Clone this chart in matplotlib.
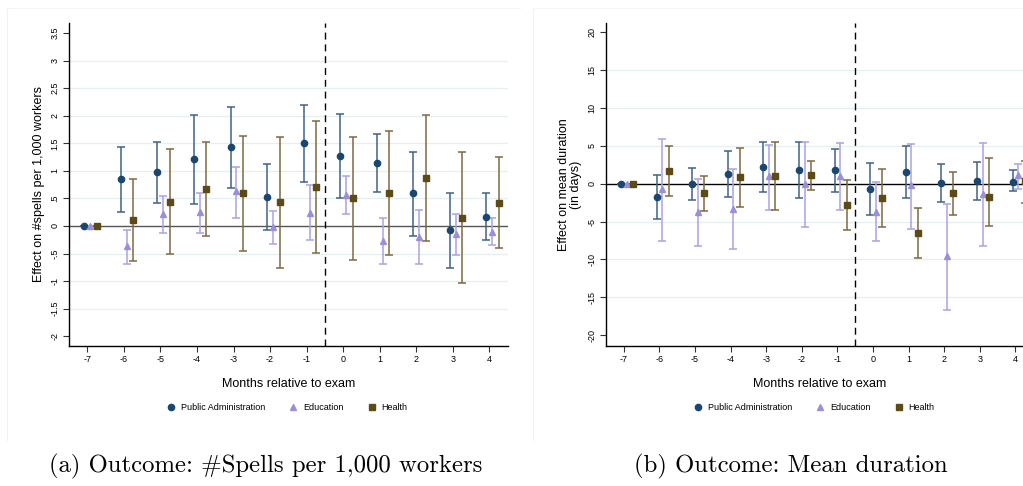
import matplotlib
matplotlib.use("Agg")
import matplotlib.pyplot as plt
from matplotlib.lines import Line2D
import numpy as np

plt.rcParams['font.family'] = ['Liberation Sans', 'DejaVu Sans']

months = [-7, -6, -5, -4, -3, -2, -1, 0, 1, 2, 3, 4]

# panel (a): #spells per 1,000 workers
pa_spells = [0, 0.85, 0.97, 1.21, 1.43, 0.52, 1.50, 1.27, 1.15, 0.59, -0.08, 0.16]
pa_spells_hi = [0, 1.44, 1.52, 2.02, 2.16, 1.12, 2.19, 2.03, 1.67, 1.35, 0.59, 0.59]
pa_spells_lo = [0, 0.26, 0.41, 0.40, 0.69, -0.08, 0.79, 0.50, 0.62, -0.19, -0.76, -0.26]

ed_spells = [0, -0.36, 0.22, 0.25, 0.63, -0.02, 0.24, 0.57, -0.27, -0.20, -0.15, -0.10]
ed_spells_hi = [0, -0.07, 0.54, 0.60, 1.07, 0.27, 0.74, 0.91, 0.15, 0.29, 0.21, 0.15]
ed_spells_lo = [0, -0.69, -0.12, -0.13, 0.14, -0.33, -0.26, 0.21, -0.69, -0.69, -0.53, -0.35]

he_spells = [0, 0.11, 0.43, 0.67, 0.59, 0.43, 0.70, 0.51, 0.60, 0.87, 0.14, 0.42]
he_spells_hi = [0, 0.85, 1.39, 1.53, 1.64, 1.62, 1.91, 1.62, 1.73, 2.01, 1.34, 1.25]
he_spells_lo = [0, -0.63, -0.51, -0.18, -0.46, -0.77, -0.49, -0.61, -0.52, -0.27, -1.03, -0.40]

# panel (b): mean duration (days)
pa_dur = [0, -1.81, 0.0, 1.28, 2.20, 1.81, 1.76, -0.70, 1.54, 0.13, 0.35, 0.25]
pa_dur_hi = [0, 1.15, 2.07, 4.27, 5.46, 5.46, 4.54, 2.69, 4.98, 2.64, 2.82, 1.76]
pa_dur_lo = [0, -4.71, -2.11, -1.72, -1.06, -1.85, -1.06, -4.14, -1.89, -2.38, -2.11, -1.00]

ed_dur = [0, -0.75, -3.74, -3.30, 0.97, -0.09, 1.06, -3.79, -0.22, -9.60, -1.37, 1.15]
ed_dur_hi = [0, 5.95, 0.57, 1.94, 5.11, 5.46, 5.33, 0.22, 5.29, -2.69, 5.42, 2.60]
ed_dur_lo = [0, -7.62, -8.19, -8.63, -3.44, -5.77, -3.44, -7.53, -5.99, -16.7, -8.28, -0.70]

he_dur = [0, 1.72, -1.28, 0.84, 0.97, 1.10, -2.86, -1.94, -6.56, -1.28, -1.72, 0.3]
he_dur_hi = [0, 4.98, 0.97, 4.71, 5.46, 3.04, 0.48, 1.89, -3.26, 1.54, 3.39, 3.0]
he_dur_lo = [0, -1.59, -3.66, -3.13, -3.52, -0.84, -6.17, -5.77, -9.87, -4.19, -5.64, -2.5]

series_names = ['Public Administration', 'Education', 'Health']

spell_ticks = [-2, -1.5, -1, -0.5, 0, 0.5, 1, 1.5, 2, 2.5, 3, 3.5]
spell_labels = ['-2', '-1.5', '-1', '-.5', '0', '.5', '1', '1.5', '2', '2.5', '3', '3.5']
dur_ticks = [-20, -15, -10, -5, 0, 5, 10, 15, 20]
dur_labels = ['-20', '-15', '-10', '-5', '0', '5', '10', '15', '20']

marker_cols = ['#1a476f', '#9a8fd8', '#5e4a17']
ci_cols = ['#3f6385', '#aba2e2', '#7d6a42']
markers = ['o', '^', 's']
offsets = [-0.08, 0.08, 0.26]

fig = plt.figure(figsize=(10.23, 4.86), dpi=100)
W, H = 1023.0, 486.0

axA = fig.add_axes([69 / W, 1 - 345.7 / H, 438.7 / W, 322.7 / H])
axB = fig.add_axes([606 / W, 1 - 345.7 / H, 427.2 / W, 322.4 / H])


def draw_panel(ax, data, ticks, labels, ylim, zero_col, ylabel, ypad):
    for k, (est, hi, lo) in enumerate(data):
        x = np.array(months) + offsets[k]
        est = np.array(est)
        err = [est - np.array(lo), np.array(hi) - est]
        ax.errorbar(x, est, yerr=err, fmt='none', ecolor=ci_cols[k],
                    elinewidth=1.1, capsize=3, capthick=1.1, zorder=3)
        ax.plot(x, est, linestyle='none', marker=markers[k], color=marker_cols[k],
                markersize=4.5 if k != 1 else 5, zorder=4)
    for t in ticks[1:-1]:
        if t != 0:
            ax.axhline(t, color='#e6efef', lw=0.9, zorder=1)
    ax.axhline(0, color=zero_col, lw=1.0, zorder=2)
    ax.axvline(-0.5, color='black', lw=1.0, dashes=(5, 3.5), zorder=2)
    ax.set_xlim(-7.5, 4.5)
    ax.set_ylim(*ylim)
    ax.set_xticks(months)
    ax.set_xticklabels([str(m) for m in months], fontsize=6.5)
    ax.set_yticks(ticks)
    ax.set_yticklabels(labels, fontsize=6.5, rotation=90, va='center')
    ax.tick_params(length=4, width=0.8, color='#333333', pad=3)
    for s in ['top', 'right']:
        ax.spines[s].set_visible(False)
    for s in ['left', 'bottom']:
        ax.spines[s].set_color('black')
        ax.spines[s].set_linewidth(1.0)
    ax.set_xlabel('Months relative to exam', fontsize=9, labelpad=10)
    ax.set_ylabel(ylabel, fontsize=9, labelpad=ypad, linespacing=1.0)


draw_panel(axA,
           [(pa_spells, pa_spells_hi, pa_spells_lo),
            (ed_spells, ed_spells_hi, ed_spells_lo),
            (he_spells, he_spells_hi, he_spells_lo)],
           spell_ticks, spell_labels, (-2.17, 3.68), '#555555',
           'Effect on #spells per 1,000 workers', 4)
draw_panel(axB,
           [(pa_dur, pa_dur_hi, pa_dur_lo),
            (ed_dur, ed_dur_hi, ed_dur_lo),
            (he_dur, he_dur_hi, he_dur_lo)],
           dur_ticks, dur_labels, (-21.4, 21.2), 'black',
           'Effect on mean duration\n(in days)', 3.5)

handles = [Line2D([], [], linestyle='none', marker=markers[k], color=marker_cols[k],
                  markersize=4.5) for k in range(3)]
for cx in [287 / W, 814 / W]:
    fig.legend(handles, series_names, loc='center', bbox_to_anchor=(cx, 1 - 408 / H),
               ncol=3, frameon=False, fontsize=6.5, handletextpad=0.6,
               columnspacing=2.6, handlelength=1.0)

# faint graph-region borders
fig.add_artist(Line2D([7 / W, 7 / W], [1 - 8 / H, 1 - 440 / H], color='#eef2f3', lw=0.8))
fig.add_artist(Line2D([533 / W, 533 / W], [1 - 8 / H, 1 - 440 / H], color='#eef2f3', lw=0.8))
fig.add_artist(Line2D([7 / W, 520 / W], [1 - 8 / H, 1 - 8 / H], color='#f3f5f6', lw=0.8))
fig.add_artist(Line2D([533 / W, 1 - 0.001], [1 - 8 / H, 1 - 8 / H], color='#f3f5f6', lw=0.8))

fig.text(266 / W, 1 - 466 / H, '(a) Outcome: #Spells per 1,000 workers',
         fontsize=17.8, family=['cmr10', 'DejaVu Serif'], ha='center', va='center')
fig.text(791 / W, 1 - 466 / H, '(b) Outcome: Mean duration',
         fontsize=17.8, family=['cmr10', 'DejaVu Serif'], ha='center', va='center')

fig.savefig('out.png', dpi=100)
